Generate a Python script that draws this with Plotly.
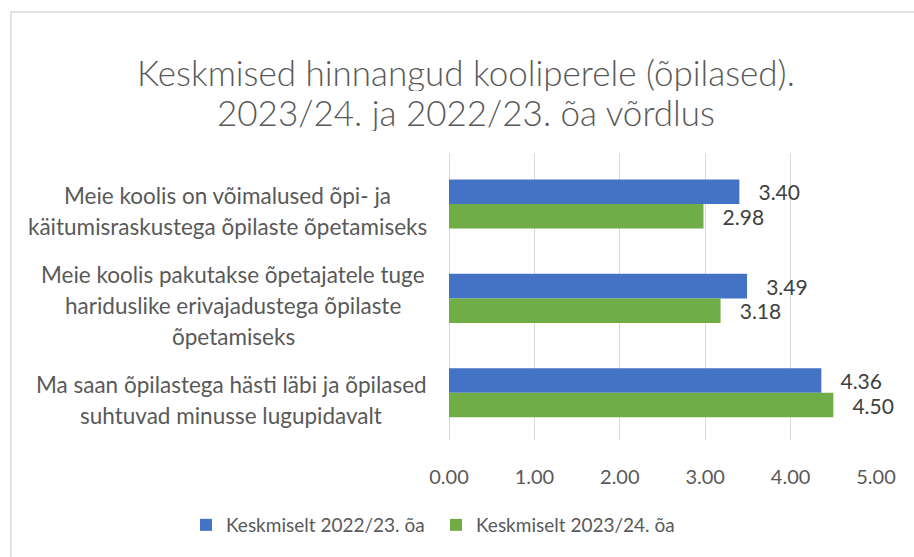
import plotly.graph_objects as go

# ---- data ----
categories = [
    "Meie koolis on võimalused õpi- ja<br>käitumisraskustega õpilaste õpetamiseks",
    "Meie koolis pakutakse õpetajatele tuge<br>hariduslike erivajadustega õpilaste<br>õpetamiseks",
    "Ma saan õpilastega hästi läbi ja õpilased<br>suhtuvad minusse lugupidavalt",
]
series_names = ["Keskmiselt 2022/23. õa", "Keskmiselt 2023/24. õa"]
values_2022_23 = [3.40, 3.49, 4.36]
values_2023_24 = [2.98, 3.18, 4.50]
x_ticks = [0, 1, 2, 3, 4, 5]
title_lines = ["Keskmised hinnangud kooliperele (õpilased).",
               "2023/24. ja 2022/23. õa võrdlus"]

# ---- styling ----
W, H = 914, 557
ML, MR, MT, MB = 449, 38, 153, 117
PW, PH = W - ML - MR, H - MT - MB
FONT = "Lato, 'Open Sans', sans-serif"
BLUE, GREEN = "#4472C4", "#70AD47"
GRID = "#D9D9D9"
TXT = "#595959"
LBL = "#404040"

def px_x(px):
    return (px - ML) / PW

def px_y(py):
    return (H - MB - py) / PH

fig = go.Figure()
legend_ids = ["legend", "legend2"]
legend_left_px = [186, 436]
for name, vals, col, lg in [(series_names[0], values_2022_23, BLUE, legend_ids[0]),
                            (series_names[1], values_2023_24, GREEN, legend_ids[1])]:
    fig.add_trace(go.Bar(
        y=categories, x=vals, name=name, orientation="h", legend=lg,
        marker=dict(color=col, line=dict(width=0)),
        texttemplate="\u00a0\u00a0\u00a0%{x:.2f}", textposition="outside",
        textfont=dict(family=FONT, size=21, color=LBL),
        constraintext="none", cliponaxis=False, hoverinfo="skip",
    ))

# category labels: centered lines, block right edge near the axis
label_centers_px = [227, 233, 231]
line_gap = 30.7
annotations = []
for cat, cx in zip(categories, label_centers_px):
    lines = cat.split("<br>")
    n = len(lines)
    for i, ln in enumerate(lines):
        annotations.append(dict(
            text=ln, xref="paper", yref="y", x=px_x(cx), y=cat,
            xanchor="center", yanchor="middle", showarrow=False,
            height=28, valign="middle",
            yshift=-(6.5 + (i - (n - 1) / 2) * line_gap),
            font=dict(family=FONT, size=22.5, color=TXT),
        ))

# title as two centered lines
title_y_px = [72, 112]
for ln, ty in zip(title_lines, title_y_px):
    annotations.append(dict(
        text=ln, xref="paper", yref="paper", x=px_x(466), y=px_y(ty),
        xanchor="center", yanchor="middle", showarrow=False,
        height=38, valign="middle",
        font=dict(family=FONT, size=35, color=TXT, weight=300),
    ))

legend_style = dict(orientation="h", xref="container", yref="container",
                    xanchor="left", y=1 - 525 / H, yanchor="middle",
                    font=dict(family=FONT, size=19, color=TXT),
                    itemwidth=30, bgcolor="rgba(0,0,0,0)")

fig.update_layout(
    width=W, height=H,
    margin=dict(l=ML, r=MR, t=MT, b=MB, pad=0),
    paper_bgcolor="white", plot_bgcolor="white",
    barmode="group", bargap=0.48, bargroupgap=0,
    xaxis=dict(range=[0, 5], tickvals=x_ticks, tickformat=".2f",
               showgrid=True, gridcolor=GRID, gridwidth=1.3,
               zeroline=True, zerolinecolor=GRID, zerolinewidth=1.3,
               showline=False, ticks="", ticklabelstandoff=23,
               tickfont=dict(family=FONT, size=20, color=TXT), fixedrange=True),
    yaxis=dict(range=[2.5, -0.54], showticklabels=False, showgrid=False,
               zeroline=False, showline=False, fixedrange=True),
    legend=dict(x=legend_left_px[0] / W, **legend_style),
    legend2=dict(x=legend_left_px[1] / W, **legend_style),
    annotations=annotations,
    shapes=[dict(type="rect", xref="paper", yref="paper",
                 x0=px_x(11), x1=px_x(929), y0=px_y(600), y1=px_y(12),
                 line=dict(color=GRID, width=1.5), fillcolor="rgba(0,0,0,0)",
                 layer="below")],
    showlegend=True,
)

fig.write_html("out.html", config={"displayModeBar": False},
               post_script="document.body.style.margin='0';")
